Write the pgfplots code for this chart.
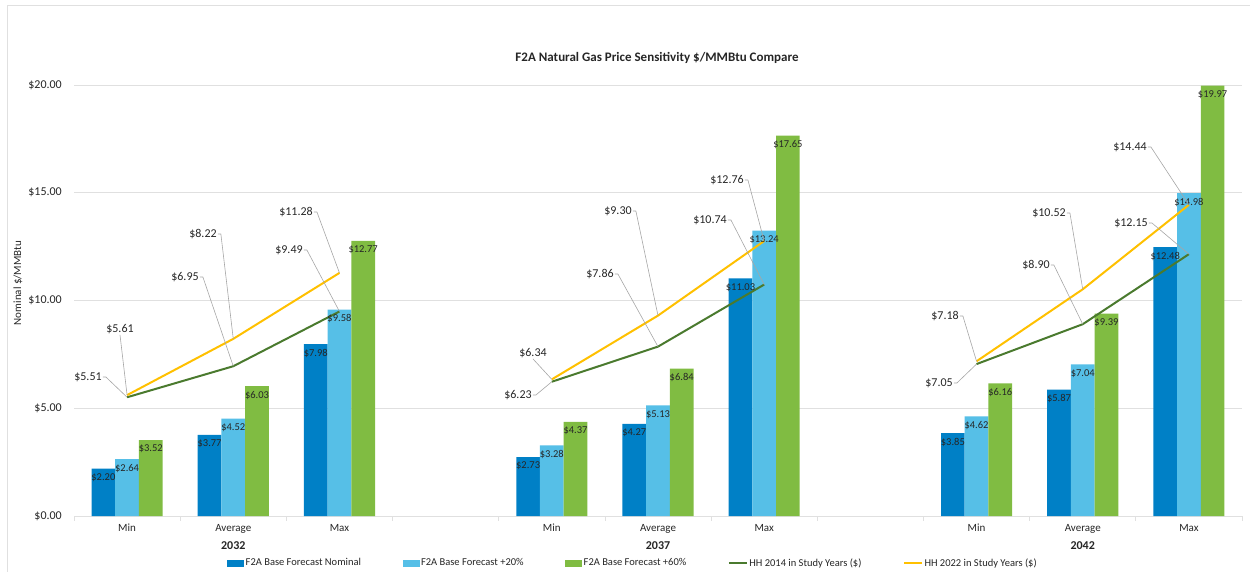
\documentclass[border=0pt]{standalone}
\usepackage{fontspec}
\setmainfont{Carlito}
\usepackage{pgfplots}
\pgfplotsset{compat=1.18}
\definecolor{cBlue}{HTML}{0080C6}
\definecolor{cLBlue}{HTML}{56BFE7}
\definecolor{cGreen}{HTML}{80BC42}
\definecolor{cDGreen}{HTML}{4A7A2E}
\definecolor{cYellow}{HTML}{FFC000}
\definecolor{cGrid}{HTML}{E0E0E0}
\definecolor{cText}{HTML}{262626}
\definecolor{cLead}{HTML}{A6A6A6}
\newcommand{\lab}[4]{\node[lbl] (#1) at (#2) {\$#3}; \draw[lead] (#1.east) -- ++(3,0) -- (#4);}
\newcommand{\labs}[4]{\node[lbl] (#1) at (#2) {\$#3}; \draw[lead] (#1.south) -- (#4);}
\pgfplotsset{barlbl/.style={
  nodes near coords={\$\pgfmathprintnumber[fixed,fixed zerofill,precision=2,assume math mode=true]{\pgfplotspointmeta}},
  nodes near coords align=center,
  point meta=y,
  every node near coord/.append style={anchor=center, xshift=#1, yshift=-9pt, font=\fontsize{10.5}{12}\selectfont, text=cText, inner sep=1pt}}}
\begin{document}
\begin{tikzpicture}[x=1pt,y=1pt,
  lbl/.style={font=\fontsize{12}{14}\selectfont, text=cText, inner sep=1pt},
  lead/.style={draw=cLead, line width=0.6pt}]
\useasboundingbox (0,0) rectangle (1250,571);
\draw[cGrid, line width=0.8pt] (7,-2) -- (7,566) -- (1252,566);
\begin{axis}[
  at={(74pt,55pt)}, anchor=south west,
  scale only axis, width=1168pt, height=431pt,
  xmin=-0.5, xmax=10.5, ymin=0, ymax=20,
  clip=false,
  axis x line=bottom, axis y line=left,
  x axis line style={-, draw=cGrid, line width=0.8pt},
  y axis line style={draw=none},
  ytick={0,5,10,15,20},
  yticklabels={\$0.00,\$5.00,\$10.00,\$15.00,\$20.00},
  ymajorgrids, grid style={cGrid, line width=0.8pt},
  major tick length=0pt,
  tick align=outside,
  yticklabel style={anchor=east, inner sep=0pt, xshift=-12pt, font=\fontsize{12}{14}\selectfont, text=cText},
  xtick={0,1,2,4,5,6,8,9,10},
  xticklabels={Min,Average,Max,Min,Average,Max,Min,Average,Max},
  xticklabel style={anchor=north, inner sep=0pt, yshift=-8pt, font=\fontsize{11}{13}\selectfont, text=cText},
  extra x ticks={-0.5,0.5,1.5,2.5,3.5,4.5,5.5,6.5,7.5,8.5,9.5,10.5},
  extra x tick labels={},
  extra x tick style={major tick length=5pt, tick style={draw=cGrid, line width=0.8pt}, grid=none, xticklabel={}},
  legend columns=5,
  legend style={at={(227pt-74pt,8pt-55pt)}, anchor=west, draw=none, inner sep=0pt,
    font=\fontsize{10.5}{12}\selectfont, text=cText,
    /tikz/every even column/.append style={column sep=40pt},
    /tikz/every odd column/.append style={column sep=0pt},
    nodes={inner sep=1.5pt}},
  bar width=23.7pt,
]
\addplot[ybar, bar shift=-23.7pt, fill=cBlue, draw=none, barlbl=-23.7pt,
  legend image code/.code={\fill[cBlue] (0pt,-3.5pt) rectangle (17pt,3.5pt);}]
  coordinates {(0,2.20) (1,3.77) (2,7.98) (4,2.73) (5,4.27) (6,11.03) (8,3.85) (9,5.87) (10,12.48)};
\addlegendentry{F2A Base Forecast Nominal}
\addplot[ybar, bar shift=0pt, fill=cLBlue, draw=none, barlbl=0pt,
  legend image code/.code={\fill[cLBlue] (0pt,-3.5pt) rectangle (17pt,3.5pt);}]
  coordinates {(0,2.64) (1,4.52) (2,9.58) (4,3.28) (5,5.13) (6,13.24) (8,4.62) (9,7.04) (10,14.98)};
\addlegendentry{F2A Base Forecast +20\%}
\addplot[ybar, bar shift=23.7pt, fill=cGreen, draw=none, barlbl=23.7pt,
  legend image code/.code={\fill[cGreen] (0pt,-3.5pt) rectangle (17pt,3.5pt);}]
  coordinates {(0,3.52) (1,6.03) (2,12.77) (4,4.37) (5,6.84) (6,17.65) (8,6.16) (9,9.39) (10,19.97)};
\addlegendentry{F2A Base Forecast +60\%}
\addplot[cDGreen, line width=2pt, mark=none, unbounded coords=jump,
  legend image code/.code={\draw[cDGreen, line width=2pt] (0pt,0pt) -- (18pt,0pt);}]
  coordinates {(0,5.51) (1,6.95) (2,9.49) (3,nan) (4,6.23) (5,7.86) (6,10.74) (7,nan) (8,7.05) (9,8.90) (10,12.15)};
\addlegendentry{HH 2014 in Study Years (\$)}
\addplot[cYellow, line width=2pt, mark=none, unbounded coords=jump,
  legend image code/.code={\draw[cYellow, line width=2pt] (0pt,0pt) -- (18pt,0pt);}]
  coordinates {(0,5.61) (1,8.22) (2,11.28) (3,nan) (4,6.34) (5,9.30) (6,12.76) (7,nan) (8,7.18) (9,10.52) (10,14.44)};
\addlegendentry{HH 2022 in Study Years (\$)}
\coordinate (a0) at (axis cs:0,5.51); \coordinate (a1) at (axis cs:1,6.95); \coordinate (a2) at (axis cs:2,9.49);
\coordinate (a4) at (axis cs:4,6.23); \coordinate (a5) at (axis cs:5,7.86); \coordinate (a6) at (axis cs:6,10.74);
\coordinate (a8) at (axis cs:8,7.05); \coordinate (a9) at (axis cs:9,8.90); \coordinate (a10) at (axis cs:10,12.15);
\coordinate (b0) at (axis cs:0,5.61); \coordinate (b1) at (axis cs:1,8.22); \coordinate (b2) at (axis cs:2,11.28);
\coordinate (b4) at (axis cs:4,6.34); \coordinate (b5) at (axis cs:5,9.30); \coordinate (b6) at (axis cs:6,12.76);
\coordinate (b8) at (axis cs:8,7.18); \coordinate (b9) at (axis cs:9,10.52); \coordinate (b10) at (axis cs:10,14.44);
\node[font=\bfseries\fontsize{12}{14}\selectfont, text=cText] at (axis cs:1,0) [yshift=-30pt] {2032};
\node[font=\bfseries\fontsize{12}{14}\selectfont, text=cText] at (axis cs:5,0) [yshift=-30pt] {2037};
\node[font=\bfseries\fontsize{12}{14}\selectfont, text=cText] at (axis cs:9,0) [yshift=-30pt] {2042};
\end{axis}
\node[font=\bfseries\fontsize{13}{15}\selectfont, text=cText] at (657,513) {F2A Natural Gas Price Sensitivity \$/MMBtu Compare};
\node[rotate=90, font=\fontsize{11}{13}\selectfont, text=cText] at (18,288) {Nominal \$/MMBtu};
\lab{L1}{88,194}{5.51}{a0}
\labs{L2}{120,242}{5.61}{b0}
\lab{L3}{185,294}{6.95}{a1}
\lab{L4}{203,337}{8.22}{b1}
\lab{L5}{289,321}{9.49}{a2}
\lab{L6}{296,359}{11.28}{b2}
\labs{L7}{533,218}{6.34}{b4}
\lab{L8}{518,176}{6.23}{a4}
\lab{L9}{600,297}{7.86}{a5}
\lab{L10}{618,360}{9.30}{b5}
\lab{L11}{710,351}{10.74}{a6}
\lab{L12}{727,391}{12.76}{b6}
\lab{L13}{945,255}{7.18}{b8}
\lab{L14}{939,188}{7.05}{a8}
\lab{L15}{1036,306}{8.90}{a9}
\lab{L16}{1049,358}{10.52}{b9}
\lab{L17}{1131,348}{12.15}{a10}
\lab{L18}{1130,424}{14.44}{b10}
\end{tikzpicture}
\end{document}
